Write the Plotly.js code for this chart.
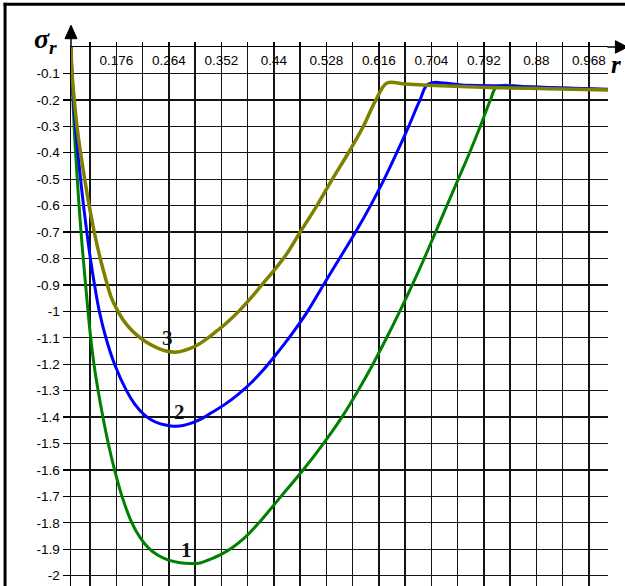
<!DOCTYPE html>
<html>
<head>
<meta charset="utf-8">
<script src="https://cdn.plot.ly/plotly-3.0.1.min.js"></script>
<style>
  html, body { margin: 0; padding: 0; background: #fff; }
  #chart { width: 625px; height: 586px; }
</style>
</head>
<body>
<div id="chart"></div>
<script>
// Radial stress sigma_r along the radius r for three load cases.
const r1 = [0.1, 0.1015, 0.1032, 0.1052, 0.1077, 0.1105, 0.1135, 0.1168, 0.1205, 0.1245, 0.1285, 0.133, 0.1385, 0.1455, 0.1535, 0.1625, 0.173, 0.1855, 0.202, 0.2159, 0.2293, 0.2444, 0.2612, 0.283, 0.2997, 0.3165, 0.3299, 0.35, 0.3701, 0.3903, 0.4138, 0.452, 0.489, 0.523, 0.554, 0.581, 0.606, 0.629, 0.651, 0.672, 0.692, 0.711, 0.73, 0.749, 0.768, 0.786, 0.803, 0.814, 0.86, 0.92, 1.0];
const s1 = [0, -0.1, -0.2, -0.3, -0.4, -0.5, -0.6, -0.7, -0.8, -0.9, -1.0, -1.1, -1.2, -1.3, -1.4, -1.5, -1.6, -1.7, -1.8, -1.856, -1.894, -1.921, -1.939, -1.951, -1.954, -1.952, -1.941, -1.921, -1.894, -1.858, -1.803, -1.7, -1.6, -1.5, -1.4, -1.3, -1.2, -1.1, -1.0, -0.9, -0.8, -0.7, -0.6, -0.5, -0.4, -0.3, -0.2, -0.15, -0.15, -0.155, -0.162];

const r2 = [0.1, 0.1015, 0.104, 0.1075, 0.1115, 0.116, 0.121, 0.1265, 0.1325, 0.1395, 0.1475, 0.1585, 0.173, 0.193, 0.2065, 0.222, 0.234, 0.249, 0.265, 0.276, 0.288, 0.303, 0.32, 0.3366, 0.3584, 0.3802, 0.402, 0.4221, 0.4423, 0.4703, 0.4965, 0.523, 0.55, 0.577, 0.602, 0.625, 0.646, 0.666, 0.685, 0.699, 0.76, 0.83, 0.9, 1.0];
const s2 = [0, -0.1, -0.2, -0.3, -0.4, -0.5, -0.6, -0.7, -0.8, -0.9, -1.0, -1.1, -1.2, -1.3, -1.35, -1.39, -1.41, -1.425, -1.433, -1.435, -1.432, -1.422, -1.405, -1.382, -1.351, -1.314, -1.27, -1.222, -1.167, -1.085, -1.0, -0.9, -0.8, -0.7, -0.6, -0.5, -0.4, -0.3, -0.2, -0.14, -0.145, -0.148, -0.153, -0.16];

const r3 = [0.1, 0.1018, 0.1055, 0.11, 0.116, 0.123, 0.1305, 0.139, 0.149, 0.161, 0.1672, 0.1756, 0.1857, 0.1974, 0.2109, 0.2259, 0.2427, 0.2612, 0.2779, 0.2897, 0.3081, 0.3249, 0.3417, 0.3601, 0.3803, 0.4004, 0.4205, 0.4406, 0.4608, 0.4842, 0.5122, 0.538, 0.565, 0.59, 0.611, 0.6296, 0.66, 0.72, 0.8, 0.9, 1.0];
const s3 = [0, -0.1, -0.2, -0.3, -0.4, -0.5, -0.6, -0.7, -0.8, -0.9, -0.946, -0.987, -1.027, -1.061, -1.091, -1.116, -1.136, -1.151, -1.154, -1.148, -1.132, -1.108, -1.079, -1.045, -1.002, -0.952, -0.898, -0.844, -0.785, -0.7, -0.6, -0.5, -0.4, -0.3, -0.2, -0.136, -0.14, -0.147, -0.153, -0.158, -0.163];

// Curve numbers written next to each minimum
const curveNames = ['1', '2', '3'];

// Labelled radius lines, and the unlabelled lines between them
const rTicks = [0.176, 0.264, 0.352, 0.44, 0.528, 0.616, 0.704, 0.792, 0.88, 0.968];
const rTickText = ['0.176', '0.264', '0.352', '0.44', '0.528', '0.616', '0.704', '0.792', '0.88', '0.968'];
const rMinor = [0.132, 0.22, 0.308, 0.396, 0.484, 0.572, 0.66, 0.748, 0.836, 0.924];

// Stress ticks
const sTicks = [-0.1, -0.2, -0.3, -0.4, -0.5, -0.6, -0.7, -0.8, -0.9, -1, -1.1, -1.2, -1.3, -1.4, -1.5, -1.6, -1.7, -1.8, -1.9, -2];
const sTickText = ['-0.1', '-0.2', '-0.3', '-0.4', '-0.5', '-0.6', '-0.7', '-0.8', '-0.9', '-1', '-1.1', '-1.2', '-1.3', '-1.4', '-1.5', '-1.6', '-1.7', '-1.8', '-1.9', '-2'];

// Page geometry (pixels)
const W = 625, H = 586;
const M = { l: 70.9, r: 17.4, t: 46.8, b: 0 };
const PW = W - M.l - M.r, PH = H - M.t - M.b;
const px = x => (x - M.l) / PW;          // pixel x -> paper x
const py = y => 1 - (y - M.t) / PH;      // pixel y -> paper y

const serif = 'Liberation Serif, Times New Roman, serif';
const sans = 'Liberation Sans, Arial, sans-serif';

const curve = { shape: 'spline', smoothing: 1.0 };
const traces = [
  { x: r1, y: s1, name: curveNames[0], mode: 'lines', line: Object.assign({ color: '#008000', width: 3 }, curve) },
  { x: r2, y: s2, name: curveNames[1], mode: 'lines', line: Object.assign({ color: '#0000ff', width: 3 }, curve) },
  { x: r3, y: s3, name: curveNames[2], mode: 'lines', line: Object.assign({ color: '#808000', width: 3.5 }, curve) }
];

const gridColor = '#151515';

const layout = {
  width: W, height: H,
  margin: { l: M.l, r: M.r, t: M.t, b: M.b, pad: 0 },
  paper_bgcolor: '#fff', plot_bgcolor: '#fff',
  showlegend: false,
  xaxis: {
    range: [0.1, 1.0], side: 'top',
    showline: true, linecolor: '#000', linewidth: 1.5,
    tickmode: 'array', tickvals: rTicks, ticktext: rTickText,
    ticks: 'outside', ticklen: 4, tickcolor: '#000', tickwidth: 1.3,
    ticklabelposition: 'inside', ticklabelstandoff: 8,
    tickfont: { family: sans, size: 13.5, color: '#000' },
    showgrid: true, gridcolor: gridColor, gridwidth: 1.3,
    minor: { tickmode: 'array', tickvals: rMinor, ticks: 'outside', ticklen: 4, tickcolor: '#000', tickwidth: 1.3,
             showgrid: true, gridcolor: gridColor, gridwidth: 1.3 },
    zeroline: false, fixedrange: true
  },
  yaxis: {
    range: [-2.039, 0],
    showline: true, linecolor: '#000', linewidth: 1.5,
    tickmode: 'array', tickvals: sTicks, ticktext: sTickText,
    ticks: 'outside', ticklen: 7, tickcolor: '#000', tickwidth: 1.3,
    tickfont: { family: sans, size: 13.5, color: '#000' },
    showgrid: true, gridcolor: gridColor, gridwidth: 1.3,
    minor: { tickmode: 'array', tickvals: [0], ticks: 'outside', ticklen: 9, tickcolor: '#000', tickwidth: 1.5, showgrid: false },
    zeroline: false, fixedrange: true
  },
  shapes: [
    // outer frame
    { type: 'line', xref: 'paper', yref: 'paper', x0: px(5), x1: px(5), y0: py(2.5), y1: py(600), line: { color: '#000', width: 3 } },
    { type: 'line', xref: 'paper', yref: 'paper', x0: px(3.5), x1: px(640), y0: py(4), y1: py(4), line: { color: '#000', width: 3 } },
    // arrow on the stress axis
    { type: 'line', xref: 'paper', yref: 'paper', x0: px(70.9), x1: px(70.9), y0: py(46.8), y1: py(32), line: { color: '#000', width: 1.5 } },
    { type: 'path', xref: 'paper', yref: 'paper',
      path: `M ${px(64.9)} ${py(38.5)} L ${px(76.9)} ${py(38.5)} L ${px(70.9)} ${py(25)} Z`,
      fillcolor: '#000', line: { color: '#000', width: 1 } },
    // arrow on the radius axis
    { type: 'line', xref: 'paper', yref: 'paper', x0: px(607), x1: px(617), y0: py(46.8), y1: py(46.8), line: { color: '#000', width: 1.5 } },
    { type: 'path', xref: 'paper', yref: 'paper',
      path: `M ${px(615)} ${py(40.5)} L ${px(615)} ${py(53)} L ${px(627)} ${py(46.8)} Z`,
      fillcolor: '#000', line: { color: '#000', width: 1 } }
  ],
  annotations: [
    { xref: 'paper', yref: 'paper', x: px(45), y: py(40), xanchor: 'center', yanchor: 'middle', showarrow: false,
      text: '<b><i>σ<sub>r</sub></i></b>', font: { family: serif, size: 28, color: '#000' } },
    { xref: 'paper', yref: 'paper', x: px(616), y: py(64), xanchor: 'center', yanchor: 'middle', showarrow: false,
      text: '<b><i>r</i></b>', font: { family: serif, size: 25, color: '#000' } },
    { xref: 'x', yref: 'y', x: 0.293, y: -1.902, showarrow: false, text: '<b>' + curveNames[0] + '</b>',
      font: { family: serif, size: 21, color: '#111' } },
    { xref: 'x', yref: 'y', x: 0.282, y: -1.38, showarrow: false, text: '<b>' + curveNames[1] + '</b>',
      font: { family: serif, size: 21, color: '#111' } },
    { xref: 'x', yref: 'y', x: 0.261, y: -1.10, showarrow: false, text: '<b>' + curveNames[2] + '</b>',
      font: { family: serif, size: 21, color: '#111' } }
  ]
};

Plotly.newPlot('chart', traces, layout, { displayModeBar: false, staticPlot: true });
</script>
</body>
</html>
